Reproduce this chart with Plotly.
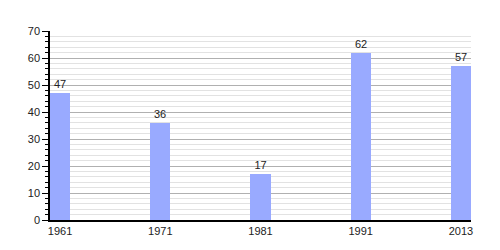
import plotly.graph_objects as go

years = ["1961", "1971", "1981", "1991", "2013"]
values = [47, 36, 17, 62, 57]
positions = [0, 1, 2, 3, 4]

fig = go.Figure()
fig.add_trace(go.Bar(
    x=[p + 0.1 for p in positions],
    y=values,
    width=0.2,
    marker=dict(color="#99aaff", line=dict(width=0)),
    text=[str(v) for v in values],
    textposition="outside",
    textfont=dict(family="Liberation Sans, Arial, sans-serif", size=11, color="#222"),
    cliponaxis=False,
))

fig.update_layout(
    width=500, height=250,
    margin=dict(l=50, r=29, t=31, b=30),
    paper_bgcolor="white", plot_bgcolor="white",
    showlegend=False,
    font=dict(family="Liberation Sans, Arial, sans-serif", size=11, color="#222"),
    bargap=0,
)
fig.update_xaxes(
    range=[0, 4.2],
    tickmode="array",
    tickvals=[p + 0.1 for p in positions],
    ticktext=years,
    showgrid=False,
    showline=True, linecolor="black", linewidth=1.5,
    ticks="", zeroline=False,
)
fig.update_yaxes(
    range=[0, 70],
    dtick=10,
    showgrid=True, gridcolor="#b0b0b0", gridwidth=1,
    showline=True, linecolor="black", linewidth=1.5,
    ticks="outside", ticklen=6, tickcolor="black",
    zeroline=False,
    minor=dict(dtick=2, ticks="outside", ticklen=3, tickcolor="black",
               showgrid=True, gridcolor="#e2e2e2", gridwidth=1),
)

fig.write_html("out.html")
